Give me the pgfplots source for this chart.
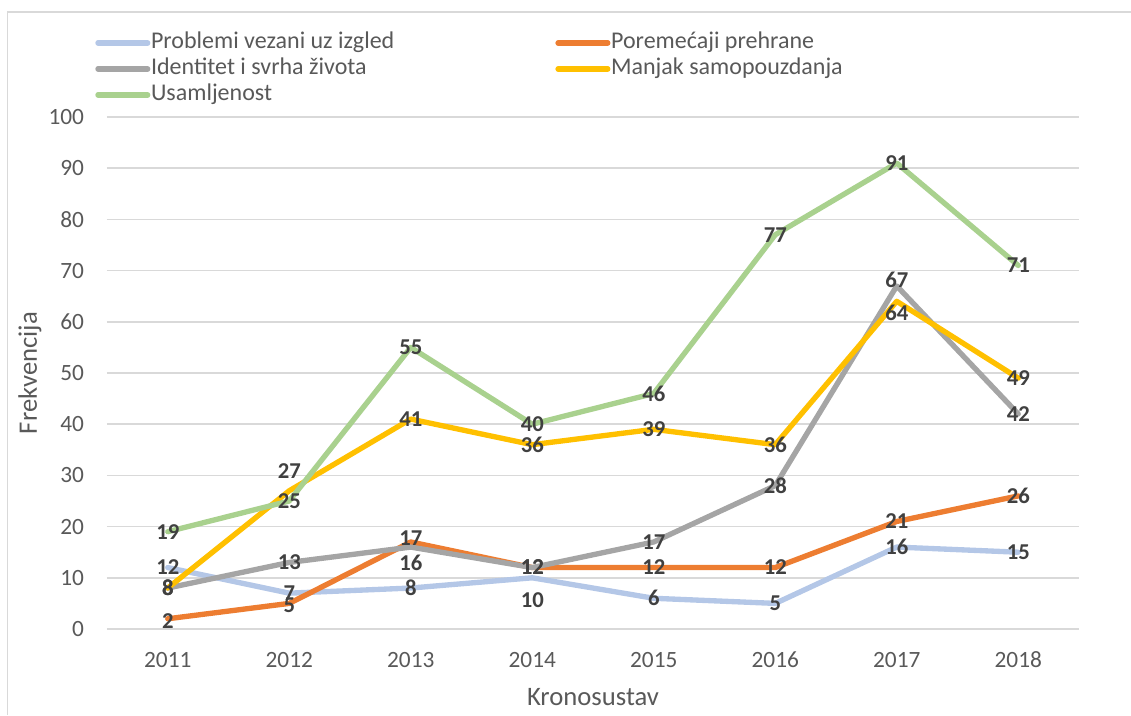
\documentclass[border=0pt]{standalone}
\usepackage{fontspec}
\setmainfont{Carlito}
\usepackage{pgfplots}
\usepackage{pgfplotstable}
\pgfplotsset{compat=1.18}
\definecolor{cblue}{HTML}{B4C7E7}
\definecolor{corange}{HTML}{ED7D31}
\definecolor{cgray}{HTML}{A5A5A5}
\definecolor{cyellow}{HTML}{FFC000}
\definecolor{cgreen}{HTML}{A9D18E}
\definecolor{gridc}{HTML}{D9D9D9}
\definecolor{txt}{HTML}{595959}
\definecolor{lab}{HTML}{404040}

\pgfplotstableread{
x y dy
0 12 0
1 7 0
2 8 0
3 10 -16.5
4 6 0
5 5 0
6 16 0
7 15 0
}\tblue
\pgfplotstableread{
x y dy
0 2 -2
1 5 -1
2 17 3
3 12 0
4 12 0
5 12 0
6 21 0
7 26 0
}\torange
\pgfplotstableread{
x y dy
0 8 0
1 13 0
2 16 -12
3 12 0
4 17 0
5 28 0
6 67 4.5
7 42 0
}\tgray
\pgfplotstableread{
x y dy
0 8 0
1 27 15
2 41 0
3 36 0
4 39 0
5 36 0
6 64 -9
7 49 0
}\tyellow
\pgfplotstableread{
x y dy
0 19 0
1 25 0
2 55 0
3 40 0
4 46 0
5 77 0
6 91 0
7 71 0
}\tgreen

\pgfplotsset{
  serline/.style={#1, line width=4pt, line cap=round, line join=round, mark=none},
  serlab/.style={draw=none, mark=none, forget plot, nodes near coords, point meta=y,
    visualization depends on={\thisrow{dy} \as \labdy},
    every node near coord/.append style={anchor=center, yshift=\labdy pt,
      font=\bfseries\fontsize{17}{20}\selectfont, text=lab, inner sep=0pt}},
}

\begin{document}
\begin{tikzpicture}
\path[use as bounding box] (0,0) rectangle (848.25pt,536.25pt);
\draw[gridc, line width=1.2pt] (5.6pt,0) -- (5.6pt,527.25pt) -- (848.25pt,527.25pt);
\begin{axis}[
  at={(80.25pt,64.5pt)}, anchor=south west,
  scale only axis, width=729pt, height=384pt,
  xmin=-0.5, xmax=7.5, ymin=0, ymax=100,
  xtick={0,1,2,3,4,5,6,7},
  xticklabels={2011,2012,2013,2014,2015,2016,2017,2018},
  ytick={0,10,...,100},
  ymajorgrids, grid style={gridc, line width=1.1pt},
  axis line style={draw=none},
  major tick length=0pt,
  clip=false,
  tick label style={font=\fontsize{17.5}{20}\selectfont, text=txt},
  /pgf/number format/assume math mode=true,
  yticklabel style={anchor=east, inner sep=0pt, xshift=-17pt},
  xticklabel style={anchor=center, inner sep=0pt, yshift=-23pt},
  xlabel={Kronosustav},
  ylabel={Frekvencija},
  label style={font=\fontsize{20}{23}\selectfont, text=txt},
  xlabel style={at={(axis description cs:0.5,-0.1328)}, anchor=center, inner sep=0pt},
  ylabel style={at={(axis description cs:-0.0792,0.5)}, anchor=center, inner sep=0pt},
  legend columns=2,
  legend style={at={(axis description cs:-0.0123,1.166)}, anchor=north west,
    draw=none, fill=none, inner sep=0pt, font=\fontsize{18}{21}\selectfont, text=txt,
    nodes={inner xsep=0pt, inner ysep=0pt, text height=12pt, text depth=4pt},
    row sep=3.5pt},
  legend cell align=left,
  legend image code/.code={\draw[#1, line width=4pt, line cap=round] (2pt,0pt) -- (39.3pt,0pt);},
]
\addplot[serline=cblue] table[x=x,y=y]{\tblue};
\addlegendentry{\makebox[303.75pt][l]{\hspace{0.5pt}Problemi vezani uz izgled}}
\addplot[serline=corange] table[x=x,y=y]{\torange};
\addlegendentry{\makebox[220pt][l]{\hspace{0.5pt}Poremećaji prehrane}}
\addplot[serline=cgray] table[x=x,y=y]{\tgray};
\addlegendentry{\makebox[303.75pt][l]{\hspace{0.5pt}Identitet i svrha života}}
\addplot[serline=cyellow] table[x=x,y=y]{\tyellow};
\addlegendentry{\makebox[220pt][l]{\hspace{0.5pt}Manjak samopouzdanja}}
\addplot[serline=cgreen] table[x=x,y=y]{\tgreen};
\addlegendentry{\makebox[303.75pt][l]{\hspace{0.5pt}Usamljenost}}

\addplot[serlab] table[x=x,y=y]{\tblue};
\addplot[serlab] table[x=x,y=y]{\torange};
\addplot[serlab] table[x=x,y=y]{\tgray};
\addplot[serlab] table[x=x,y=y]{\tyellow};
\addplot[serlab] table[x=x,y=y]{\tgreen};
\end{axis}
\end{tikzpicture}
\end{document}
